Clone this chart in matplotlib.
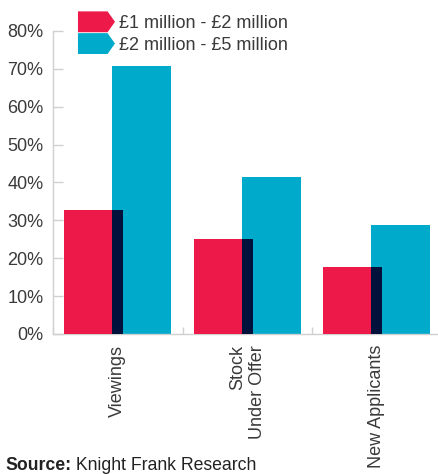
import numpy as np
import matplotlib
matplotlib.use('Agg')
import matplotlib.pyplot as plt
from matplotlib.patches import Patch, Polygon
from matplotlib.legend_handler import HandlerPatch

categories = ['Viewings', 'Stock\nUnder Offer', 'New Applicants']
series_names = ['£1 million - £2 million', '£2 million - £5 million']
low_band = [32.7, 25.1, 17.7]    # £1m - £2m
high_band = [70.7, 41.4, 28.8]   # £2m - £5m
y_ticks = [0, 10, 20, 30, 40, 50, 60, 70, 80]

RED = '#ED1948'
BLUE = '#00AACB'
NAVY = '#00123B'
GREY = '#D0D0D0'
TEXT = '#3a3a3a'

plt.rcParams['font.family'] = ['Liberation Sans', 'DejaVu Sans']
plt.rcParams['font.size'] = 13


class ArrowHandler(HandlerPatch):
    # legend key drawn as a tag with a pointed right end
    def create_artists(self, legend, orig_handle, xdescent, ydescent,
                       width, height, fontsize, trans):
        x0, y0 = -xdescent, -ydescent
        pts = [[x0, y0], [x0 + 0.8 * width, y0], [x0 + width, y0 + height / 2],
               [x0 + 0.8 * width, y0 + height], [x0, y0 + height]]
        p = Polygon(pts, closed=True, facecolor=orig_handle.get_facecolor(),
                    edgecolor='none', transform=trans)
        return [p]


fig = plt.figure(figsize=(4.38, 4.74), dpi=100)
ax = fig.add_axes([0.121, 0.2954, 0.887, 0.6392])

x = np.arange(len(categories))
w = 0.456
off = 0.185
low = np.array(low_band)
high = np.array(high_band)

ax.bar(x + off, high, width=w, color=BLUE, zorder=2)
ax.bar(x - off, low, width=w, color=RED, zorder=3)
# overlap of the two bars shown in navy
ov_left = x + off - w / 2
ov_right = x - off + w / 2
ax.bar((ov_left + ov_right) / 2, np.minimum(low, high), width=ov_right - ov_left,
       color=NAVY, zorder=4)

ax.set_xlim(-0.5, len(categories) - 0.5)
ax.set_ylim(0, 80)
ax.set_yticks(y_ticks)
ax.set_yticklabels([f'{t}%' for t in y_ticks], color=TEXT)
ax.tick_params(axis='y', direction='in', length=7, width=1, color=GREY, pad=7)

ax.set_xticks(x)
ax.set_xticklabels(categories, rotation=90, va='top', ha='center',
                   multialignment='right', color=TEXT)
ax.set_xticks(np.arange(len(categories)) - 0.5, minor=True)
ax.tick_params(axis='x', which='major', length=0, pad=8)
ax.tick_params(axis='x', which='minor', direction='in', length=5, width=1, color=GREY)

for s in ['top', 'right']:
    ax.spines[s].set_visible(False)
for s in ['left', 'bottom']:
    ax.spines[s].set_color(GREY)
    ax.spines[s].set_linewidth(1)

handles = [Patch(facecolor=RED), Patch(facecolor=BLUE)]
fig.legend(handles, series_names, loc='upper left', bbox_to_anchor=(0.178, 0.976),
           frameon=False, handlelength=2.05, handleheight=1.4, handletextpad=0.25,
           labelspacing=0.05, borderpad=0, borderaxespad=0, fontsize=13,
           labelcolor=TEXT, handler_map={Patch: ArrowHandler()})

src = fig.text(0.012, 0.008, 'Source:', weight='bold', fontsize=12.7, color='#222222')
fig.text(0, 0, ' Knight Frank Research', fontsize=12.7, color='#222222',
         transform=src.get_transform())
fig.canvas.draw()
bb = src.get_window_extent()
fig.texts[-1].set_position(((bb.x1) / fig.bbox.width, 0.008))

fig.savefig('out.png', dpi=100)
